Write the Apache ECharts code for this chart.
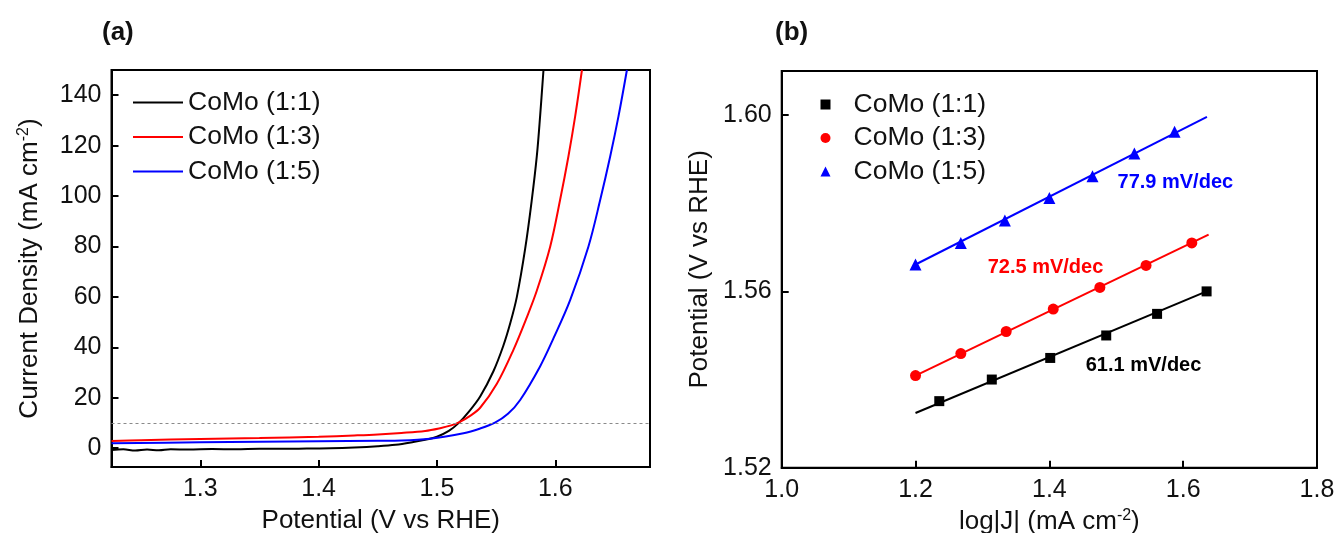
<!DOCTYPE html>
<html>
<head>
<meta charset="utf-8">
<script src="https://cdn.jsdelivr.net/npm/echarts@6/dist/echarts.min.js"></script>
<style>
html,body{margin:0;padding:0;background:#fff;overflow:hidden;}
#chart{width:1337px;height:533px;}
</style>
</head>
<body>
<div id="chart"></div>
<script>
// ---------- Panel (a): LSV curves ----------
var seriesNames = ['CoMo (1:1)', 'CoMo (1:3)', 'CoMo (1:5)'];
var potA_11 = [1.225,1.235,1.245,1.255,1.265,1.275,1.29,1.31,1.33,1.35,1.37,1.39,1.41,1.43,1.45,1.465,1.48,1.49,1.50,1.51,1.518,1.527,1.5365,1.5477,1.556,1.5619,1.5675,1.5745,1.580,1.5844,1.5872,1.590];
var curA_11 = [-0.8,-0.5,-1.0,-0.6,-0.9,-0.5,-0.6,-0.4,-0.5,-0.3,-0.3,-0.2,-0.1,0.2,0.7,1.3,2.4,3.3,4.5,6.8,9.8,14.5,20.5,30.5,40.5,49.5,60,79,98,116,132,150];
var potA_13 = [1.225,1.25,1.30,1.35,1.40,1.43,1.45,1.47,1.49,1.5027,1.512,1.519,1.528,1.5365,1.5506,1.5646,1.576,1.5844,1.5957,1.6041,1.6111,1.6168,1.6225];
var curA_13 = [2.8,3.1,3.6,4.0,4.5,5.0,5.4,6.0,6.8,7.9,9.0,10.3,12.8,16.0,25.5,39,52,62.5,80,98.6,115.8,131.7,150];
var potA_15 = [1.225,1.30,1.40,1.45,1.47,1.494,1.5224,1.536,1.549,1.56,1.5703,1.587,1.5985,1.6126,1.628,1.638,1.6464,1.6534,1.6605];
var curA_15 = [1.9,2.3,2.7,2.9,3.0,3.7,5.9,7.7,10.1,13.6,19.1,32.3,43.6,58.8,80,98.6,115.8,131.7,150];
var refCurrent = [10];
var xTicksA = [1.3, 1.4, 1.5, 1.6];
var yTicksA = [0, 20, 40, 60, 80, 100, 120, 140];

// ---------- Panel (b): Tafel plots ----------
var logJ_11 = [1.2355,1.314,1.4013,1.485,1.561,1.635];
var potB_11 = [1.5351,1.5400,1.5449,1.5500,1.5549,1.5600];
var logJ_13 = [1.200,1.2677,1.3355,1.4058,1.4755,1.5445,1.6129];
var potB_13 = [1.5409,1.5459,1.5509,1.5560,1.5609,1.5659,1.5710];
var logJ_15 = [1.200,1.2677,1.3335,1.400,1.4645,1.5271,1.5871];
var potB_15 = [1.5661,1.5710,1.5761,1.5812,1.5861,1.5913,1.5962];
var fitX_11 = [1.2, 1.635], fitY_11 = [1.5324, 1.5600];
var fitX_13 = [1.2, 1.638], fitY_13 = [1.5409, 1.5729];
var fitX_15 = [1.2, 1.6355], fitY_15 = [1.5661, 1.5996];
var slopeTexts = ['61.1 mV/dec', '72.5 mV/dec', '77.9 mV/dec'];
var yTicksB = [1.52, 1.56, 1.60];

function zip(a, b) { return a.map(function (v, i) { return [v, b[i]]; }); }

var FONT = "'Liberation Sans', Arial, sans-serif";
var colors = ['#000000', '#ff0000', '#0000ff'];

var chart = echarts.init(document.getElementById('chart'), null, {renderer: 'canvas'});

var axisCommon = {
  axisLine: {show: true, onZero: false, lineStyle: {color: '#000', width: 2}},
  axisTick: {show: true, inside: true, length: 7, lineStyle: {color: '#000', width: 2}},
  splitLine: {show: false},
  axisLabel: {color: '#111', fontSize: 25, fontFamily: FONT, margin: 10},
  nameTextStyle: {color: '#111', fontSize: 26, fontFamily: FONT, lineHeight: 28}
};
function ax(extra) { return echarts.util.merge(echarts.util.clone(axisCommon), extra, true); }

var supStyle = {fontSize: 16, verticalAlign: 'top', lineHeight: 6, fontFamily: FONT, color: '#111'};

var option = {
  backgroundColor: '#fff',
  animation: false,
  title: [
    {text: '(a)', left: 102, top: 20, padding: 0, textStyle: {fontSize: 26, fontWeight: 'bold', color: '#111', fontFamily: FONT}},
    {text: '(b)', left: 775, top: 20, padding: 0, textStyle: {fontSize: 26, fontWeight: 'bold', color: '#111', fontFamily: FONT}}
  ],
  grid: [
    {left: 111.5, top: 70, right: 687, bottom: 66, show: true, borderColor: '#000', borderWidth: 2, containLabel: false, outerBoundsMode: 'none'},
    {left: 781.7, top: 71, right: 20, bottom: 65.3, show: true, borderColor: '#000', borderWidth: 2, containLabel: false, outerBoundsMode: 'none'}
  ],
  legend: [
    {
      data: seriesNames.map(function (n) { return n + ' '; }),
      orient: 'vertical', left: 133, top: 89, padding: 0, icon: 'rect', itemWidth: 50, itemHeight: 2, itemGap: 7.5,
      textStyle: {fontSize: 26.5, fontFamily: FONT, color: '#111', lineHeight: 26},
      selectedMode: false
    },
    {
      data: seriesNames,
      orient: 'vertical', left: 820.5, top: 91, padding: 0, itemWidth: 10, itemHeight: 10, itemGap: 6.5,
      textStyle: {fontSize: 26.5, fontFamily: FONT, color: '#111', lineHeight: 26, padding: [0, 0, 0, 18]},
      selectedMode: false
    }
  ],
  xAxis: [
    ax({gridIndex: 0, type: 'value', min: 1.225, max: 1.68,
      name: 'Potential (V vs RHE)', nameLocation: 'middle', nameGap: 40,
      axisTick: {customValues: xTicksA},
      axisLabel: {customValues: xTicksA, formatter: function (v) { return v.toFixed(1); }}}),
    ax({gridIndex: 1, type: 'value', min: 1.0, max: 1.8, interval: 0.2,
      name: 'log|J| (mA cm{sup|-2})', nameLocation: 'middle', nameGap: 40,
      nameTextStyle: {rich: {sup: supStyle}},
      axisLabel: {formatter: function (v) { return v.toFixed(1); }}})
  ],
  yAxis: [
    ax({gridIndex: 0, type: 'value', min: -7.5, max: 150,
      name: 'Current Density (mA cm{sup|-2})', nameLocation: 'middle', nameGap: 68,
      nameTextStyle: {rich: {sup: supStyle}},
      axisTick: {customValues: yTicksA},
      axisLabel: {customValues: yTicksA}}),
    ax({gridIndex: 1, type: 'value', min: 1.52, max: 1.61,
      name: 'Potential (V vs RHE)', nameLocation: 'middle', nameGap: 68,
      axisTick: {customValues: yTicksB},
      axisLabel: {customValues: yTicksB, formatter: function (v) { return v.toFixed(2); }}})
  ],
  series: [
    {name: seriesNames[0] + ' ', type: 'line', xAxisIndex: 0, yAxisIndex: 0, data: zip(potA_11, curA_11),
      showSymbol: false, symbol: 'none', smooth: 0.35, lineStyle: {color: colors[0], width: 2}, itemStyle: {color: colors[0]},
      markLine: {silent: true, symbol: 'none', label: {show: false},
        lineStyle: {type: [3, 3], color: '#8a8a8a', width: 1},
        data: refCurrent.map(function (v) { return {yAxis: v}; })}},
    {name: seriesNames[1] + ' ', type: 'line', xAxisIndex: 0, yAxisIndex: 0, data: zip(potA_13, curA_13),
      showSymbol: false, symbol: 'none', smooth: 0.35, lineStyle: {color: colors[1], width: 2}, itemStyle: {color: colors[1]}},
    {name: seriesNames[2] + ' ', type: 'line', xAxisIndex: 0, yAxisIndex: 0, data: zip(potA_15, curA_15),
      showSymbol: false, symbol: 'none', smooth: 0.35, lineStyle: {color: colors[2], width: 2}, itemStyle: {color: colors[2]}},

    {type: 'line', xAxisIndex: 1, yAxisIndex: 1, data: zip(fitX_11, fitY_11), showSymbol: false, symbol: 'none', lineStyle: {color: colors[0], width: 2}, silent: true},
    {type: 'line', xAxisIndex: 1, yAxisIndex: 1, data: zip(fitX_13, fitY_13), showSymbol: false, symbol: 'none', lineStyle: {color: colors[1], width: 2}, silent: true},
    {type: 'line', xAxisIndex: 1, yAxisIndex: 1, data: zip(fitX_15, fitY_15), showSymbol: false, symbol: 'none', lineStyle: {color: colors[2], width: 2}, silent: true},

    {name: seriesNames[0], type: 'scatter', xAxisIndex: 1, yAxisIndex: 1, data: zip(logJ_11, potB_11), symbol: 'rect', symbolSize: 10, itemStyle: {color: colors[0], opacity: 1}, z: 5},
    {name: seriesNames[1], type: 'scatter', xAxisIndex: 1, yAxisIndex: 1, data: zip(logJ_13, potB_13), symbol: 'circle', symbolSize: 11, itemStyle: {color: colors[1], opacity: 1}, z: 5},
    {name: seriesNames[2], type: 'scatter', xAxisIndex: 1, yAxisIndex: 1, data: zip(logJ_15, potB_15), symbol: 'triangle', symbolSize: 12, itemStyle: {color: colors[2], opacity: 1}, z: 5},

    {type: 'scatter', xAxisIndex: 1, yAxisIndex: 1, symbolSize: 1, silent: true, z: 6,
      itemStyle: {opacity: 0},
      label: {show: true, position: [0, 0], align: 'center', verticalAlign: 'middle',
        fontSize: 20, fontWeight: 'bold', fontFamily: FONT, textBorderWidth: 0, opacity: 1,
        formatter: function (p) { return p.name; }},
      data: [
        {name: slopeTexts[0], value: [1.5415, 1.5431], label: {color: '#000000'}},
        {name: slopeTexts[1], value: [1.395, 1.5654], label: {color: '#ff0000'}},
        {name: slopeTexts[2], value: [1.589, 1.5847], label: {color: '#0000ff'}}
      ]}
  ]
};
chart.setOption(option);
</script>
</body>
</html>
